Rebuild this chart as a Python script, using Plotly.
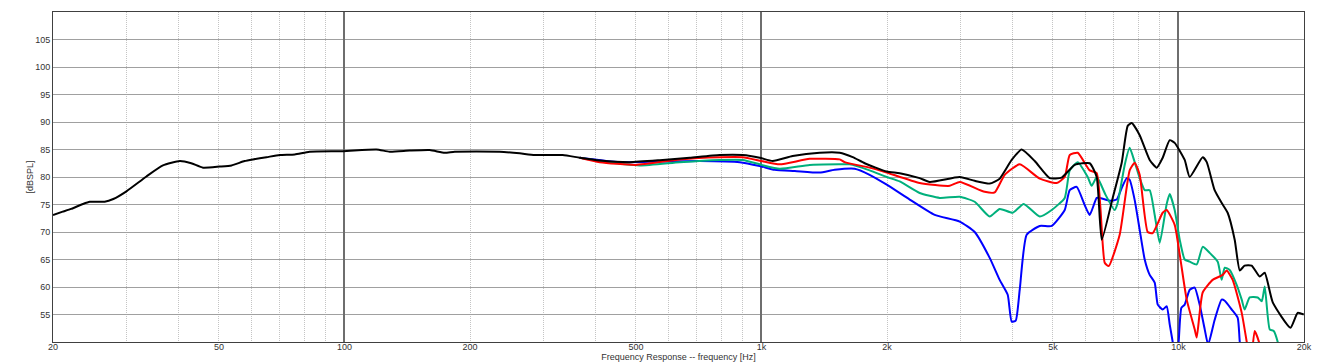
import plotly.graph_objects as go

# ---------------- data ----------------
freq_black = [20, 21.1, 22.1, 23.6, 24.5, 26.6, 27.9, 30, 33.5, 36.7, 40.3, 42.9, 45.8, 50.2, 53.6,
               57.6, 60.3, 65, 69.9, 76, 82.5, 99.2, 119.3, 128.4, 143.3, 160.1, 173.9, 183.8, 235.6,
               263.2, 285.9, 333.7, 366.6, 409.4, 483.1, 570.1, 672.9, 793.7, 901.6, 990.3, 1064,
               1188, 1379, 1540, 1655, 1768, 1997, 2145, 2395, 2532, 2988, 3246, 3526, 3726, 3981,
               4207, 4522, 4912, 5248, 5640, 6125, 6367, 6546, 6955, 7310, 7556, 7726, 8072, 8531,
               8868, 9166, 9528, 9793, 10350, 10640, 11430, 11690, 12210, 12690, 13120, 13640,
               14030, 14410, 14980, 15660, 16100, 16830, 18560, 19310, 19970]
spl_black = [73.1, 73.7, 74.2, 75.1, 75.5, 75.5, 76.0, 77.4, 80.1, 82.1, 82.9, 82.5, 81.7, 81.9, 82.1,
             82.9, 83.2, 83.6, 84.0, 84.1, 84.6, 84.7, 85.0, 84.6, 84.8, 84.9, 84.4, 84.6, 84.6,
             84.3, 84.0, 84.0, 83.5, 83.0, 82.7, 83.05, 83.5, 84.0, 84.0, 83.5, 82.9,
             83.8, 84.4, 84.4, 83.6, 82.5, 81.0, 80.7, 79.8, 79.1, 80.0, 79.3, 78.8, 79.7, 83.1,
             85.0, 82.9, 79.8, 79.9, 82.2, 82.5, 80.0, 68.6, 76.2, 82.6, 89.3, 89.8, 87.6, 83.1,
             81.7, 83.5, 86.7, 86.2, 83.1, 80.0, 83.6, 82.7, 77.6, 75.3, 73.5, 68.6,
             63.0, 63.9, 63.9, 61.9, 62.6, 57.2, 52.6, 55.3, 55.0]

freq_red = [366.6, 409.4, 499.4, 636.8, 793.7, 901.6, 1001, 1106, 1305, 1540, 1583, 1817, 1997,
            2395, 2828, 2988, 3430, 3625, 3831, 4162, 4648, 5105, 5336, 5486, 5733, 6125, 6367,
            6655, 6804, 7228, 7638, 7853, 8072, 8437, 8675, 9166, 9369, 9793, 10070, 10465,
            10937, 11060, 11430, 12080, 12770, 13050, 13490, 14180, 14580, 14900, 15230, 15600, 16000]
spl_red = [83.5, 82.7, 82.2, 83.2, 83.6, 83.6, 82.9, 82.3, 83.3, 83.2, 82.7, 81.7, 80.8,
           78.9, 78.4, 79.1, 77.3, 77.2, 80.4, 82.3, 79.7, 78.9, 80.0, 84.0, 84.4, 81.2, 80.7,
           64.4, 63.8, 69.5, 81.2, 82.6, 80.4, 70.0, 69.8, 73.5, 74.0, 71.3, 65.9, 57.7,
           52.3, 50.8, 59.0, 61.3, 62.2, 63.0, 61.3, 55.3, 50.0, 46.0, 52.0, 50.0, 46.0]

freq_green = [366.6, 409.4, 510.5, 636.8, 793.7, 901.6, 1001, 1106, 1305, 1540, 1628, 1817, 1997,
              2145, 2395, 2676, 2988, 3246, 3526, 3726, 4004, 4255, 4648, 4966, 5336, 5486, 5733,
              6058, 6193, 6367, 6475, 6691, 7032, 7149, 7431, 7638, 7853, 8072, 8299, 8531, 8770,
              9016, 9369, 9528, 9793, 10070, 10350, 10640, 11060, 11430, 11880, 12420, 12690,
              12910, 13270, 13790, 14180, 14410, 14820, 15490, 15840, 16100, 16550, 16920, 17300,
              17700]
spl_green = [83.5, 82.9, 82.1, 82.7, 83.1, 83.1, 82.2, 81.5, 82.2, 82.3, 82.3, 81.2, 80.0,
             79.2, 77.1, 76.2, 76.4, 75.5, 72.8, 74.2, 73.5, 75.1, 72.8, 74.0, 76.2, 81.2, 82.7,
             80.0, 78.4, 80.0, 79.1, 76.7, 74.0, 75.3, 82.2, 85.3, 82.7, 79.8, 77.6, 77.6, 73.1,
             68.0, 75.1, 76.9, 74.0, 68.6, 65.0, 64.6, 64.1, 67.3, 66.2, 64.6, 61.3,
             63.5, 63.1, 60.4, 57.7, 55.9, 58.1, 58.1, 57.4, 60.1, 52.3, 52.0, 50.0,
             46.0]

freq_blue = [366.6, 457.1, 570.1, 711, 886.8, 990.3, 1076, 1202, 1379, 1498, 1673, 1817, 1997,
             2267, 2603, 2988, 3246, 3526, 3726, 3895, 3981, 4071, 4162, 4325, 4648, 4966, 5336,
             5486, 5701, 5958, 6125, 6367, 6475, 6842, 7111, 7310, 7514, 7638, 7853, 8072, 8299,
             8531, 8770, 8918, 9166, 9369, 9528, 9687, 9870, 10010, 10160, 10350, 10640, 10937,
             11240, 11560, 11780, 12210, 12690, 12910, 13420, 13870, 14030, 14300]
spl_blue = [83.5, 82.7, 82.8, 82.9, 82.7, 82.0, 81.3, 81.1, 80.8, 81.3, 81.5, 80.4, 78.6,
            75.9, 73.1, 71.9, 70.0, 65.3, 61.3, 58.6, 53.7, 53.9, 59.5, 69.5, 71.1, 71.1, 74.0,
            77.6, 78.2, 74.9, 73.1, 76.2, 76.2, 75.7, 75.9, 78.0, 79.8, 79.5, 75.8, 70.4, 65.0,
            62.2, 60.8, 56.8, 55.9, 56.5, 53.2, 50.0, 46.0, 50.0, 56.2, 56.8, 59.5, 59.9,
            56.8, 52.3, 49.5, 54.0, 57.7, 57.5, 55.9, 54.4, 50.0, 46.0]

x_tick_vals = [20, 50, 100, 200, 500, 1000, 2000, 5000, 10000, 20000]
x_tick_text = ["20", "50", "100", "200", "500", "1k", "2k", "5k", "10k", "20k"]
x_minor_vals = [30, 40, 50, 60, 70, 80, 90, 200, 300, 400, 500, 600, 700, 800, 900,
                2000, 3000, 4000, 5000, 6000, 7000, 8000, 9000]
x_decade_vals = [100, 1000, 10000]
y_tick_vals = [55, 60, 65, 70, 75, 80, 85, 90, 95, 100, 105]

# ---------------- figure ----------------
fig = go.Figure()
series = [
    (freq_blue, spl_blue, "#0000ff"),
    (freq_green, spl_green, "#00b07c"),
    (freq_red, spl_red, "#ff0000"),
    (freq_black, spl_black, "#000000"),
]
for fx, sy, col in series:
    fig.add_trace(go.Scatter(x=fx, y=sy, mode="lines",
                             line=dict(color=col, width=2, shape="spline", smoothing=0.5),
                             showlegend=False, hoverinfo="skip"))
# empty trace to carry the overlay axis used for the decade grid lines
fig.add_trace(go.Scatter(x=[], y=[], xaxis="x2", yaxis="y", showlegend=False))

font = dict(family="Liberation Sans, Arial, sans-serif", size=9, color="#333333")

fig.update_layout(
    width=1317, height=362,
    margin=dict(l=53, r=13, t=12, b=20, autoexpand=False),
    paper_bgcolor="white", plot_bgcolor="white",
    font=font,
    xaxis=dict(
        type="log", range=[1.30103, 4.30103],
        tickvals=x_tick_vals, ticktext=x_tick_text, ticks="",
        ticklabelstandoff=-4,
        showgrid=False, zeroline=False,
        minor=dict(tickvals=x_minor_vals, showgrid=True, gridcolor="#c4c4c4",
                   griddash="1px,1px", gridwidth=1, ticks=""),
        showline=True, mirror=True, linecolor="#404040", linewidth=1,
        tickfont=font, automargin=False,
        title=dict(text="Frequency Response -- frequency [Hz]", font=font, standoff=0),
    ),
    xaxis2=dict(
        type="log", range=[1.30103, 4.30103], overlaying="x", anchor="y", side="bottom",
        tickvals=x_decade_vals, showticklabels=False, ticks="",
        showgrid=True, gridcolor="#6e6e6e", gridwidth=1.5, zeroline=False, automargin=False,
    ),
    yaxis=dict(
        range=[50, 110], tickvals=y_tick_vals, ticks="",
        showgrid=True, gridcolor="#a0a0a0", gridwidth=1, zeroline=False,
        showline=True, mirror=True, linecolor="#404040", linewidth=1,
        tickfont=font, automargin=False,
        title=dict(text="[dBSPL]", font=font, standoff=0),
    ),
)

fig.write_html("out.html")
